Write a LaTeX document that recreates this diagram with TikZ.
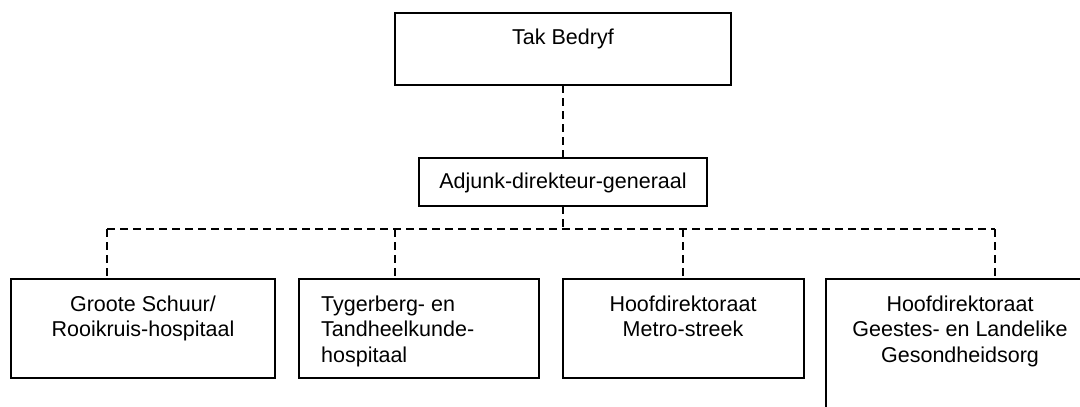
\documentclass[tikz,border=0pt]{standalone}
\usepackage{fontspec}
\setmainfont{Liberation Sans}
\begin{document}
\begin{tikzpicture}[x=1pt,y=-1pt,
  box/.style={draw, line width=1.6pt, rectangle, inner sep=0pt, outer sep=0pt, anchor=north west},
  lbl/.style={inner sep=0pt, anchor=north, align=center, font=\fontsize{21.5}{25.5}\selectfont},
  conn/.style={line width=1.6pt, dash pattern=on 8pt off 5pt}]
\useasboundingbox (0,0) rectangle (1080,407);
\clip (0,0) rectangle (1080,407);
\node[box, minimum width=336pt, minimum height=72pt] (top) at (395,13) {};
\node[box, minimum width=288pt, minimum height=48pt] (adj) at (419,158) {};
\node[box, minimum width=264pt, minimum height=99pt] (b1) at (11,279) {};
\node[box, minimum width=240pt, minimum height=99pt] (b2) at (299,279) {};
\node[box, minimum width=241pt, minimum height=99pt] (b3) at (563,279) {};
\node[box, minimum width=268pt, minimum height=160pt] (b4) at (826,279) {};
\node[lbl] (ttop) at (563,28.3) {Tak Bedryf};
\node[lbl] (tadj) at (563,172.3) {Adjunk-direkteur-generaal};
\node[lbl] (t1) at (143,295.3) {Groote Schuur/\\Rooikruis-hospitaal};
\node[lbl, align=left, anchor=north west] (t2) at (321,295.3) {Tygerberg- en\\Tandheelkunde-\\hospitaal};
\node[lbl] (t3) at (683,295.3) {Hoofdirektoraat\\Metro-streek};
\node[lbl] (t4) at (960,295.3) {Hoofdirektoraat\\Geestes- en Landelike\\Gesondheidsorg};
\coordinate (bus) at (563,229);
\coordinate (c1) at (107,229);
\coordinate (c2) at (395,229);
\coordinate (c3) at (683,229);
\coordinate (c4) at (995,229);
\draw[conn] (top.south) -- (adj.north);
\draw[conn] (adj.south) -- (bus);
\draw[conn] (c1) -- (c4);
\draw[conn] (c1) -- (c1 |- b1.north);
\draw[conn] (c2) -- (c2 |- b2.north);
\draw[conn] (c3) -- (c3 |- b3.north);
\draw[conn] (c4) -- (c4 |- b4.north);
\end{tikzpicture}
\end{document}
